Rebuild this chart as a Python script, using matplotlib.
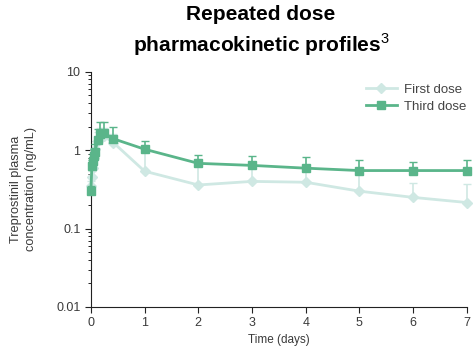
import matplotlib.pyplot as plt
from matplotlib.lines import Line2D
import numpy as np

plt.rcParams['font.family'] = ['Liberation Sans', 'DejaVu Sans']
plt.rcParams['mathtext.fontset'] = 'custom'
plt.rcParams['mathtext.rm'] = 'Liberation Sans'

time = [0, 0.02, 0.04, 0.06, 0.08, 0.125, 0.17, 0.25, 0.42, 1, 2, 3, 4, 5, 6, 7]

first_dose = [0.35, 0.45, 0.6, 0.8, 1.05, 1.3, 1.45, 1.5, 1.25,
              0.54, 0.36, 0.40, 0.39, 0.30, 0.25, 0.215]
first_upper = [0.4, 0.55, 0.75, 1.0, 1.3, 1.7, 1.9, 1.9, 1.6,
               1.0, 0.68, 0.62, 0.58, 0.5, 0.38, 0.37]

third_dose = [0.30, 0.62, 0.72, 0.85, 0.95, 1.35, 1.6, 1.65, 1.4,
              1.03, 0.68, 0.64, 0.59, 0.55, 0.55, 0.55]
third_upper = [0.35, 0.75, 0.9, 1.05, 1.2, 1.85, 2.3, 2.3, 2.0,
               1.3, 0.86, 0.84, 0.81, 0.74, 0.70, 0.74]

c_first = '#cfe8e3'
c_third = '#5ab58a'
c_text = '#3a3a3a'

fig = plt.figure(figsize=(4.73, 3.54), dpi=100)
ax = fig.add_axes([0.192, 0.133, 0.795, 0.664])

t = np.array(time)
f = np.array(first_dose)
th = np.array(third_dose)

ax.errorbar(t, f, yerr=[np.zeros_like(f), np.array(first_upper) - f],
            color=c_first, marker='D', markersize=5, linewidth=2,
            capsize=3, elinewidth=1.2, clip_on=False, zorder=2)
ax.errorbar(t, th, yerr=[np.zeros_like(th), np.array(third_upper) - th],
            color=c_third, marker='s', markersize=6, linewidth=2,
            capsize=3, elinewidth=1.2, clip_on=False, zorder=3)

ax.set_yscale('log')
ax.set_ylim(0.01, 10)
ax.set_xlim(0, 7)
ax.set_xticks(range(8))
ax.set_yticks([0.01, 0.1, 1, 10])
ax.set_yticklabels(['0.01', '0.1', '1', '10'])

for side in ['top', 'right']:
    ax.spines[side].set_visible(False)
ax.spines['left'].set_color('#222222')
ax.spines['bottom'].set_color('#222222')
ax.tick_params(axis='both', labelsize=9, labelcolor=c_text, colors='#222222',
               direction='out', length=4)
ax.tick_params(axis='y', which='minor', length=2.5)

ax.set_xlabel('Time (days)', fontsize=8.5, color=c_text, labelpad=3)
ax.set_ylabel('Treprostinil plasma\nconcentration (ng/mL)', fontsize=9.2,
              color=c_text, labelpad=14, linespacing=1.25)

handles = [Line2D([], [], color=c_first, marker='D', markersize=5, linewidth=2),
           Line2D([], [], color=c_third, marker='s', markersize=6, linewidth=2)]
ax.legend(handles, ['First dose', 'Third dose'], loc='upper right',
          bbox_to_anchor=(1.03, 1.0), frameon=False, fontsize=9.5,
          handlelength=2.4, handletextpad=0.5, labelspacing=0.35,
          labelcolor='#444444')

fig.text(0.552, 0.958, 'Repeated dose', ha='center', va='center',
         fontsize=15, fontweight='bold')
fig.text(0.552, 0.873, r'pharmacokinetic profiles$^{\mathrm{3}}$', ha='center',
         va='center', fontsize=15, fontweight='bold')

fig.savefig('out.png', dpi=100)
